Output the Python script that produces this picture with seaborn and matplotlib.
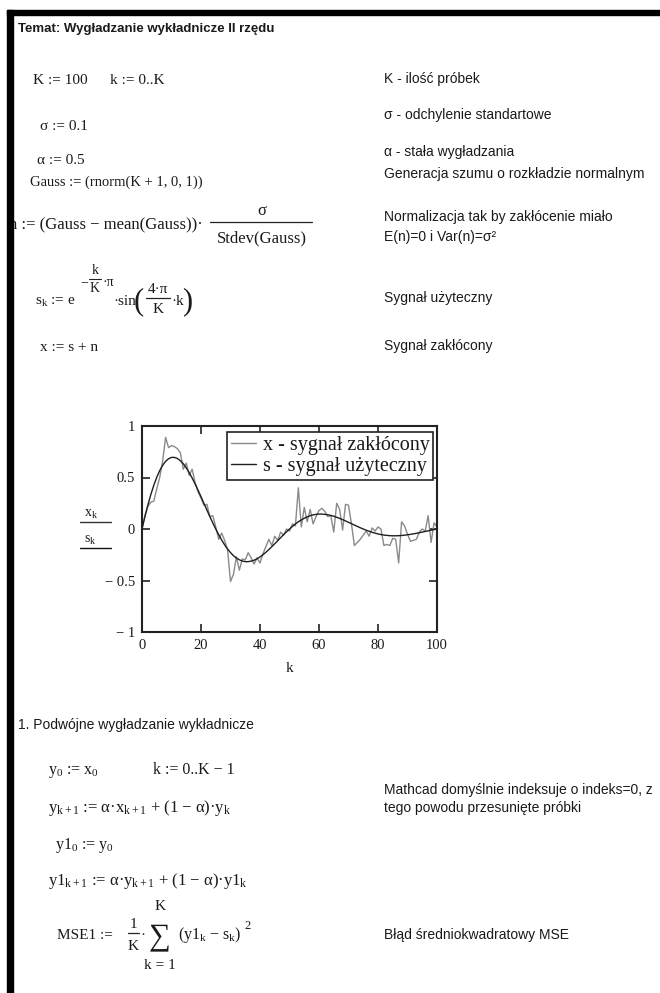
import matplotlib
matplotlib.use("Agg")
import matplotlib.pyplot as plt
import seaborn as sns
import pandas as pd
from matplotlib.patches import Rectangle
from matplotlib.lines import Line2D

# =============================================================================
# Data
# =============================================================================
k_values = list(range(0, 101))

# s - sygnał użyteczny
s_values = [0.000, 0.122, 0.234, 0.335, 0.425, 0.502, 0.567, 0.618, 0.657, 0.682,
            0.695, 0.695, 0.685, 0.663, 0.633, 0.594, 0.547, 0.495, 0.438, 0.377,
            0.314, 0.249, 0.184, 0.121, 0.059, 0.000, -0.055, -0.107, -0.153, -0.194,
            -0.229, -0.259, -0.282, -0.299, -0.311, -0.317, -0.317, -0.312, -0.303, -0.289,
            -0.271, -0.250, -0.226, -0.200, -0.172, -0.143, -0.114, -0.084, -0.055, -0.027,
            0.000, 0.025, 0.049, 0.070, 0.088, 0.104, 0.118, 0.129, 0.137, 0.142,
            0.145, 0.145, 0.142, 0.138, 0.132, 0.124, 0.114, 0.103, 0.091, 0.078,
            0.065, 0.052, 0.038, 0.025, 0.012, 0.000, -0.012, -0.022, -0.032, -0.040,
            -0.048, -0.054, -0.059, -0.062, -0.065, -0.066, -0.066, -0.065, -0.063, -0.060,
            -0.056, -0.052, -0.047, -0.042, -0.036, -0.030, -0.024, -0.018, -0.011, -0.006,
            0.000]

# x - sygnał zakłócony
x_values = [0.00, 0.13, 0.22, 0.26, 0.27, 0.39, 0.50, 0.66, 0.89, 0.79,
            0.81, 0.80, 0.78, 0.74, 0.58, 0.64, 0.52, 0.58, 0.45, 0.36,
            0.30, 0.23, 0.24, 0.12, 0.13, 0.02, -0.10, -0.04, -0.11, -0.20,
            -0.51, -0.44, -0.27, -0.40, -0.29, -0.30, -0.23, -0.28, -0.34, -0.28,
            -0.33, -0.24, -0.17, -0.10, -0.16, -0.07, -0.11, -0.03, -0.06, 0.00,
            -0.02, 0.05, 0.03, 0.40, 0.02, 0.21, 0.07, 0.19, 0.05, 0.12,
            0.18, 0.20, 0.17, 0.12, 0.13, -0.03, 0.25, 0.19, -0.01, 0.24,
            0.23, 0.05, -0.16, -0.13, -0.10, -0.06, -0.02, -0.07, 0.01, -0.02,
            0.02, 0.00, -0.16, -0.15, -0.16, -0.09, -0.10, -0.33, 0.07, 0.03,
            -0.05, -0.12, -0.11, -0.10, -0.03, 0.00, -0.02, 0.13, -0.13, 0.06,
            0.02]

x_ticks = [0, 20, 40, 60, 80, 100]
y_ticks = [-1, -0.5, 0, 0.5, 1]
y_tick_labels = ["\u2212 1", "\u2212 0.5", "0", "0.5", "1"]
legend_labels = ["x - sygna\u0142 zak\u0142\u00f3cony", "s - sygna\u0142 u\u017cyteczny"]

# =============================================================================
# Style
# =============================================================================
sns.set_theme(style="white")
plt.rcParams['font.family'] = ['Liberation Sans', 'DejaVu Sans']
plt.rcParams['mathtext.fontset'] = 'custom'
plt.rcParams['mathtext.rm'] = 'Liberation Serif'
plt.rcParams['mathtext.it'] = 'Liberation Serif'
plt.rcParams['mathtext.bf'] = 'Liberation Serif:bold'

W, H = 660, 993
fig = plt.figure(figsize=(W / 100, H / 100), dpi=100)
fig.patch.set_facecolor('white')

SANS = 10
MATH = 11
SERIF = ['Liberation Serif', 'DejaVu Serif']
TXT = '#1a1a1a'


def put(x, y, s, size=SANS, ha='left', va='center', **kw):
    fig.text(x / W, 1 - y / H, s, fontsize=size, color=TXT, va=va, ha=ha, **kw)


def mput(x, y, s, size=MATH, ha='left', **kw):
    # math line, y is the baseline
    fig.text(x / W, 1 - y / H, s, fontsize=size, color=TXT, va='baseline', ha=ha,
             family=SERIF, **kw)


def hbar(x0, x1, y, lw=0.9, color='#222222'):
    fig.add_artist(Line2D([x0 / W, x1 / W], [1 - y / H, 1 - y / H],
                          transform=fig.transFigure, color=color, linewidth=lw))


# page borders
fig.add_artist(Rectangle((7 / W, 0), 6 / W, 1 - 10 / H, transform=fig.transFigure,
                         color='black', zorder=10))
fig.add_artist(Rectangle((7 / W, 1 - 15 / H), 1, 5 / H, transform=fig.transFigure,
                         color='black', zorder=10))

# =============================================================================
# Text of the worksheet
# =============================================================================
put(18, 29, "Temat: Wyg\u0142adzanie wyk\u0142adnicze II rz\u0119du", size=9.5, fontweight='bold')

mput(33, 84, "K := 100")
mput(110, 84, "k := 0..K")
mput(40, 130, "\u03c3 := 0.1")
mput(37, 164, "\u03b1 := 0.5")
mput(30, 186, "Gauss := (rnorm(K + 1, 0, 1))", size=10.5)

# n := (Gauss - mean(Gauss)) * sigma / Stdev(Gauss)
mput(9, 229, "n := (Gauss \u2212 mean(Gauss))\u00b7", size=12)
mput(262, 215, "\u03c3", ha='center', size=12)
hbar(210, 312, 222)
mput(262, 242, "Stdev(Gauss)", ha='center', size=12)

# s_k := e^(-k/K*pi) * sin(4*pi/K*k)
mput(35, 305, "s$_\\mathrm{k}$ := e")
mput(80, 286, "\u2212", size=10)
mput(95, 274, "k", size=10, ha='center')
hbar(89, 101, 279, lw=0.8)
mput(95, 292, "K", size=10, ha='center')
mput(102, 286, "\u00b7\u03c0", size=10)
mput(113, 305, "\u00b7sin")
mput(134, 309, "(", size=22)
mput(158, 293, "4\u00b7\u03c0", ha='center')
hbar(146, 170, 298)
mput(158, 313, "K", ha='center')
mput(171, 305, "\u00b7k")
mput(182, 309, ")", size=22)

mput(40, 351, "x := s + n")

RX = 384
put(RX, 79, "K - ilo\u015b\u0107 pr\u00f3bek")
put(RX, 115, "\u03c3 - odchylenie standartowe")
put(RX, 152, "\u03b1 - sta\u0142a wyg\u0142adzania")
put(RX, 174, "Generacja szumu o rozk\u0142adzie normalnym")
put(RX, 217, "Normalizacja tak by zak\u0142\u00f3cenie mia\u0142o")
put(RX, 237, "E(n)=0 i Var(n)=\u03c3\u00b2")
put(RX, 298, "Sygna\u0142 u\u017cyteczny")
put(RX, 346, "Sygna\u0142 zak\u0142\u00f3cony")

put(18, 725, "1. Podw\u00f3jne wyg\u0142adzanie wyk\u0142adnicze")
mput(48, 774, "y$_0$ := x$_0$", size=11.5)
mput(153, 774, "k := 0..K \u2212 1", size=11.5)
mput(48, 812, "y$_\\mathrm{k+1}$ := \u03b1\u00b7x$_\\mathrm{k+1}$ + (1 \u2212 \u03b1)\u00b7y$_\\mathrm{k}$", size=12)
mput(55, 849, "y1$_0$ := y$_0$", size=11.5)
mput(48, 885, "y1$_\\mathrm{k+1}$ := \u03b1\u00b7y$_\\mathrm{k+1}$ + (1 \u2212 \u03b1)\u00b7y1$_\\mathrm{k}$", size=12)

# MSE1 := 1/K * sum_{k=1}^{K} (y1_k - s_k)^2
mput(57, 939, "MSE1 :=")
mput(133, 928, "1", ha='center')
hbar(128, 139, 933)
mput(133, 950, "K", ha='center')
mput(140, 939, "\u00b7")
mput(160, 944, "\u2211", size=22, ha='center')
mput(160, 910, "K", ha='center')
mput(160, 969, "k = 1", ha='center')
mput(178, 939, "(y1$_\\mathrm{k}$ \u2212 s$_\\mathrm{k}$)", size=11.5)
mput(244, 929, "2", size=9)

put(RX, 790, "Mathcad domy\u015blnie indeksuje o indeks=0, z")
put(RX, 808, "tego powodu przesuni\u0119te pr\u00f3bki")
put(RX, 935, "B\u0142\u0105d \u015bredniokwadratowy MSE")

# =============================================================================
# Plot
# =============================================================================
df = pd.DataFrame({'k': k_values, 'x': x_values, 's': s_values})

ax = fig.add_axes([142 / W, 1 - 632 / H, (437 - 142) / W, (632 - 426) / H])
sns.lineplot(data=df, x='k', y='x', ax=ax, color='#8a8a8a', linewidth=1.0, label=legend_labels[0])
sns.lineplot(data=df, x='k', y='s', ax=ax, color='#1e1e1e', linewidth=1.0, label=legend_labels[1])

ax.set_xlim(0, 100)
ax.set_ylim(-1, 1)
ax.set_xticks(x_ticks)
ax.set_yticks(y_ticks)
ax.set_yticklabels(y_tick_labels)
ax.set_xlabel('')
ax.set_ylabel('')
for lab in ax.get_xticklabels() + ax.get_yticklabels():
    lab.set_fontfamily('Liberation Serif')
    lab.set_fontsize(10.5)
    lab.set_color(TXT)
ax.tick_params(direction='in', length=6, width=1.2, color='#222222',
               top=True, right=True, bottom=True, left=True, pad=5)
for sp in ax.spines.values():
    sp.set_color('#222222')
    sp.set_linewidth(1.5)

leg = ax.legend(loc='upper right', bbox_to_anchor=(0.988, 0.972), borderaxespad=0,
                frameon=True, fancybox=False, framealpha=1, edgecolor='#222222',
                prop={'family': 'Liberation Serif', 'size': 14.5},
                handlelength=1.2, handletextpad=0.35, borderpad=0.2, labelspacing=0.08)
leg.get_frame().set_linewidth(1.2)
for t in leg.get_texts():
    t.set_color(TXT)

# axis labels in Mathcad style
mput(286, 672, "k")
mput(84, 517, "x$_\\mathrm{k}$", size=10)
mput(84, 543, "s$_\\mathrm{k}$", size=10)
hbar(80, 111, 522, lw=1.0, color='#333333')
hbar(80, 111, 548, lw=1.0, color='#111111')

fig.savefig('out.png', dpi=100, facecolor='white')
